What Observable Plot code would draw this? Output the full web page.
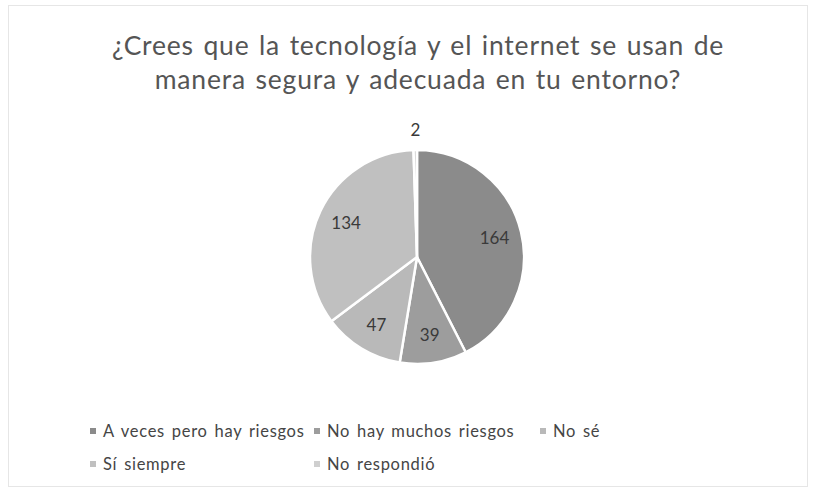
<!DOCTYPE html>
<html>
<head>
<meta charset="utf-8">
<script src="https://cdn.jsdelivr.net/npm/d3@7"></script>
<script src="https://cdn.jsdelivr.net/npm/@observablehq/plot@0.6"></script>
<style>
  html, body { margin: 0; padding: 0; background: #ffffff; }
  #wrap { position: relative; width: 814px; height: 493px; overflow: hidden; font-family: Lato, "Open Sans", sans-serif; color: #595959; }
  #frame { position: absolute; left: 8px; top: 5px; width: 800px; height: 482px; border: 1px solid #e6e6e6; box-sizing: border-box; }
  #title { position: absolute; left: 0; top: 28px; width: 836px; text-align: center; font-size: 26.5px; line-height: 34px; letter-spacing: 0.8px; word-spacing: 2px; color: #555555; }
  #chart { position: absolute; left: 0; top: 115px; }
  .leg { position: absolute; font-size: 16.5px; line-height: 20px; letter-spacing: 0.7px; word-spacing: 2px; color: #454545; white-space: nowrap; }
  .leg span.sw { display: inline-block; width: 6px; height: 6px; margin-right: 7px; vertical-align: 3px; }
</style>
</head>
<body>
<div id="wrap">
  <div id="frame"></div>
  <div id="title">¿Crees que la tecnología y el internet se usan de<br>manera segura y adecuada en tu entorno?</div>
  <div id="chart"></div>
  <div id="legend"></div>
</div>
<script>
const categories = ["A veces pero hay riesgos", "No hay muchos riesgos", "No sé", "Sí siempre", "No respondió"];
const values = [164, 39, 47, 134, 2];
const colors = ["#8b8b8b", "#9d9d9d", "#b9b9b9", "#c0c0c0", "#cfcfcf"];

const pie = d3.pie().sort(null).value(d => d.value);
const rows = categories.map((c, i) => ({category: c, value: values[i]}));
const arcs = pie(rows);
const total = d3.sum(values);
const labels = arcs.map(a => {
  const mid = (a.startAngle + a.endAngle) / 2;
  const share = a.data.value / total;
  const k = share < 0.02 ? 1.19 : 0.74;
  return {x: Math.sin(mid) * k, y: Math.cos(mid) * k, text: String(a.data.value)};
});

const W = 814, H = 275, cx = 417, cy = 142, R = 107;

const pieMark = (index, scales) => {
  const x = scales.x, y = scales.y;
  const x0 = x(0), y0 = y(0), r = x(1) - x(0);
  const arc = d3.arc().innerRadius(0).outerRadius(r);
  const g = d3.create("svg:g").attr("transform", `translate(${x0},${y0})`);
  g.selectAll("path").data(arcs).join("path")
    .attr("d", arc)
    .attr("fill", d => scales.color(d.data.category))
    .attr("stroke", "#ffffff")
    .attr("stroke-width", 2.5)
    .attr("stroke-linejoin", "round");
  return g.node();
};

const chart = Plot.plot({
  width: W,
  height: H,
  margin: 0,
  x: {domain: [-1, 1], range: [cx - R, cx + R], axis: null},
  y: {domain: [-1, 1], range: [cy + R, cy - R], axis: null},
  color: {domain: categories, range: colors},
  style: {background: "transparent", fontFamily: "Lato, 'Open Sans', sans-serif"},
  marks: [
    pieMark,
    Plot.text(labels, {x: "x", y: "y", text: "text", fontSize: 17, fill: "#3a3a3a"})
  ]
});
document.getElementById("chart").appendChild(chart);

// Legend
const legendPos = [[90, 421], [314, 421], [540, 421], [90, 454], [314, 454]];
const leg = document.getElementById("legend");
const colorScale = chart.scale("color");
categories.forEach((c, i) => {
  const el = document.createElement("div");
  el.className = "leg";
  el.style.left = legendPos[i][0] + "px";
  el.style.top = legendPos[i][1] + "px";
  el.innerHTML = `<span class="sw" style="background:${colorScale.apply(c)}"></span>${c}`;
  leg.appendChild(el);
});
</script>
</body>
</html>
